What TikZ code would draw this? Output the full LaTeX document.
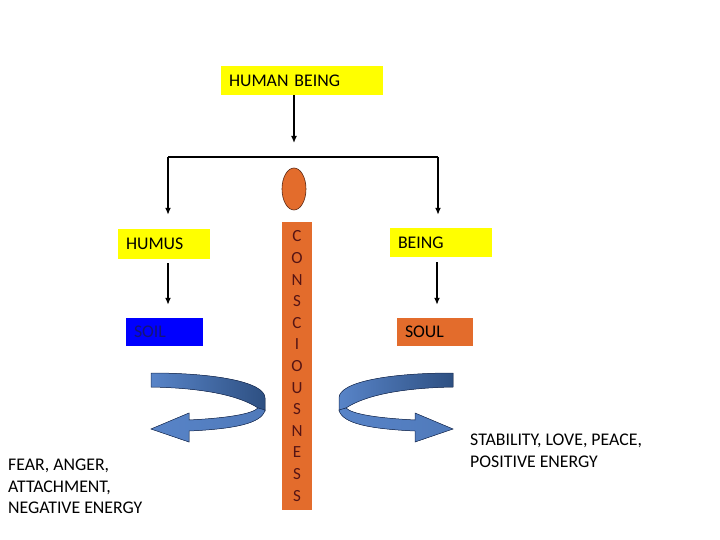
\documentclass[tikz,border=0pt]{standalone}
\usepackage{fontspec}
\setmainfont{Carlito}
\usetikzlibrary{arrows.meta,shapes.geometric}
\definecolor{boxyellow}{RGB}{255,255,0}
\definecolor{boxblue}{RGB}{0,0,255}
\definecolor{soilink}{RGB}{20,20,120}
\definecolor{boxorange}{RGB}{227,108,44}
\definecolor{letterred}{RGB}{85,20,20}
\definecolor{headline}{RGB}{90,40,20}
\definecolor{ribbonlight}{RGB}{88,132,200}
\definecolor{ribbondark}{RGB}{46,80,130}
\definecolor{ribbonedge}{RGB}{30,50,90}

\tikzset{
  box/.style={inner xsep=8pt, inner ysep=0pt, minimum height=29pt, align=left,
    font=\fontsize{17.8}{21}\selectfont},
  arr/.style={line width=1.5pt, -{Latex[length=7pt,width=6pt]}},
  note/.style={anchor=north west, inner sep=0pt, align=left,
    font=\fontsize{17.8}{21.5}\selectfont},
  pics/turnarrow/.style={code={
    % back band
    \fill[left color=ribbonlight, right color=ribbondark, draw=ribbonedge, line width=0.5pt]
      (151,373) .. controls (215,373) and (265,382) .. (265,398) -- (265,411)
      -- (258,408) .. controls (240,396) and (205,388) .. (151,387) -- cycle;
    % front band with head
    \fill[left color=ribbonlight, right color=ribbonlight!80!ribbondark, draw=ribbonedge, line width=0.5pt]
      (265,410) .. controls (262,424) and (232,429) .. (189,431) -- (189,442)
      -- (151,429) -- (189,413) -- (189,420)
      .. controls (228,418) and (252,414) .. (258,408) -- cycle;
  }}
}

\begin{document}
\begin{tikzpicture}[x=1pt,y=-1pt]
\useasboundingbox (0,0) rectangle (720,540);
% Boxes
\node[box, fill=boxyellow, text width=146pt] (hb) at (302,80.5) {HUMAN BEING};
\node[box, fill=boxyellow, text width=76pt, minimum height=30pt] (humus) at (164,244) {HUMUS};
\node[box, fill=boxblue, text width=61pt, minimum height=28pt, text=soilink] (soil) at (164.5,332) {SOIL};
\node[box, fill=boxyellow, text width=86pt] (being) at (441,242.5) {BEING};
\node[box, fill=boxorange, text width=60pt, minimum height=28pt] (soul) at (435,332) {SOUL};
% Consciousness column and head
\node[ellipse, draw=headline, fill=boxorange, line width=0.6pt, minimum width=24pt,
  minimum height=42pt, inner sep=0pt] (head) at (294,189) {};
\node[fill=boxorange, minimum width=30pt, minimum height=288pt, inner sep=0pt, align=center,
  text=letterred, font=\fontsize{17}{21.6}\selectfont] (column) at (297,366)
  {C\\O\\N\\S\\C\\I\\O\\U\\S\\N\\E\\S\\S};
% Arrows
\coordinate (split) at (294,143);
\coordinate (fl) at (168,157);
\coordinate (fr) at (438,157);
\draw[arr] (split |- hb.south) -- (split);
\draw[line width=1.5pt] (fl) -- (fr);
\draw[arr, shorten >=14pt] (fl) -- (fl |- humus.north);
\draw[arr, shorten >=13pt] (fr) -- (fr |- being.north);
\draw[arr, shorten <=4pt, shorten >=13pt] ([xshift=4pt]humus.south) -- ([xshift=4pt]humus.south |- soil.north);
\draw[arr, shorten <=5pt, shorten >=13pt] ([xshift=-4pt]being.south) -- ([xshift=-4pt]being.south |- soul.north);
% Turning arrows
\pic at (0,0) {turnarrow};
\pic[xscale=-1] at (604,0) {turnarrow};
% Labels
\node[note] (fear) at (8,459) {FEAR, ANGER,\\ATTACHMENT,\\NEGATIVE ENERGY};
\node[note] (stable) at (470,434) {STABILITY, LOVE, PEACE,\\POSITIVE ENERGY};
\end{tikzpicture}
\end{document}
